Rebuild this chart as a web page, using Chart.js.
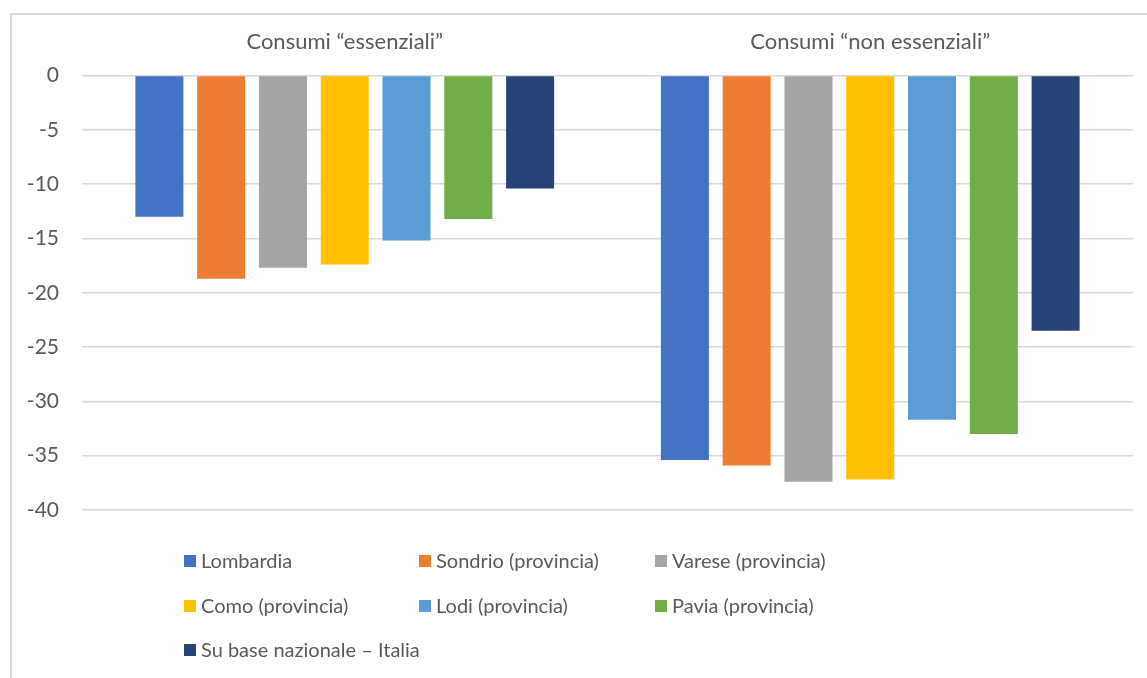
<!DOCTYPE html>
<html>
<head>
<meta charset="utf-8">
<script src="https://cdn.jsdelivr.net/npm/chart.js@4.4.1/dist/chart.umd.min.js"></script>
<style>
  body { margin: 0; background: #fff; }
  #frame { position: absolute; left: 10px; top: 13px; width: 1150px; height: 680px; border: 2px solid #d9d9d9; box-sizing: border-box; }
  #wrap { position: absolute; left: 0; top: 0; width: 1147px; height: 678px; }
</style>
</head>
<body>
<div id="frame"></div>
<div id="wrap"><canvas id="myChart"></canvas></div>
<script>
  var categories = ["Consumi \u201cessenziali\u201d", "Consumi \u201cnon essenziali\u201d"];
  var seriesNames = [
    "Lombardia",
    "Sondrio (provincia)",
    "Varese (provincia)",
    "Como (provincia)",
    "Lodi (provincia)",
    "Pavia (provincia)",
    "Su base nazionale \u2013 Italia"
  ];
  var lombardia = [-13.0, -35.4];
  var sondrio = [-18.7, -35.9];
  var varese = [-17.7, -37.4];
  var como = [-17.4, -37.2];
  var lodi = [-15.2, -31.7];
  var pavia = [-13.2, -33.0];
  var italia = [-10.4, -23.5];
  var yTicks = [0, -5, -10, -15, -20, -25, -30, -35, -40];

  var seriesValues = [lombardia, sondrio, varese, como, lodi, pavia, italia];
  var barColors = ["#4472C4", "#ED7D31", "#A5A5A5", "#FFC000", "#5B9BD5", "#70AD47", "#264478"];

  var FONT = "Lato, 'Liberation Sans', sans-serif";
  var TEXT = "#595959";

  // legend in three fixed columns, like the office chart
  var gridLegend = {
    id: "gridLegend",
    afterDraw: function (chart) {
      var c = chart.ctx;
      var cols = [184, 419, 655];
      var rows = [561, 606, 650];
      c.save();
      c.font = "20px " + FONT;
      c.textBaseline = "middle";
      chart.data.datasets.forEach(function (ds, i) {
        var x = cols[i % 3];
        var y = rows[Math.floor(i / 3)];
        c.fillStyle = ds.backgroundColor;
        c.fillRect(x, y - 6, 12, 12);
        c.fillStyle = TEXT;
        c.fillText(ds.label, x + 17, y + 1);
      });
      c.restore();
    }
  };

  var ctx = document.getElementById("myChart").getContext("2d");

  new Chart(ctx, {
    type: "bar",
    data: {
      labels: categories,
      datasets: seriesNames.map(function (name, i) {
        return {
          label: name,
          data: seriesValues[i],
          backgroundColor: barColors[i],
          borderWidth: 0,
          categoryPercentage: 0.823,
          barPercentage: 0.777
        };
      })
    },
    options: {
      responsive: true,
      maintainAspectRatio: false,
      animation: false,
      layout: { padding: { left: 0, right: 14, top: 0, bottom: 168 } },
      plugins: {
        legend: { display: false },
        tooltip: { enabled: false }
      },
      scales: {
        x: {
          position: "top",
          grid: { display: false, drawTicks: false },
          border: { display: false },
          ticks: { color: TEXT, font: { family: FONT, size: 22 }, padding: 20 },
          afterFit: function (scale) { scale.height = 75.5; }
        },
        y: {
          min: -40,
          max: 0,
          afterBuildTicks: function (scale) {
            scale.ticks = yTicks.map(function (v) { return { value: v }; });
          },
          grid: { color: "#d9d9d9", lineWidth: 1.5, drawTicks: false },
          border: { display: false },
          ticks: { color: TEXT, font: { family: FONT, size: 21 }, padding: 23 },
          afterFit: function (scale) { scale.width = 82; }
        }
      }
    },
    plugins: [gridLegend]
  });
</script>
</body>
</html>
